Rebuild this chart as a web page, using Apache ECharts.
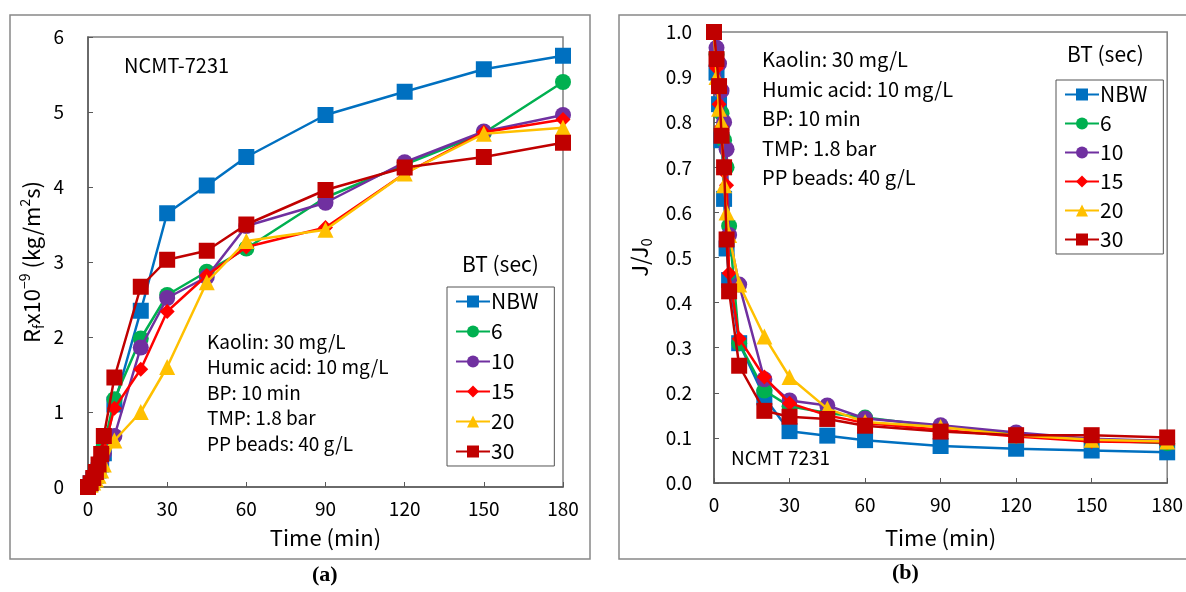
<!DOCTYPE html>
<html><head><meta charset="utf-8">
<script src="https://cdn.jsdelivr.net/npm/echarts@6/dist/echarts.min.js"></script>
<style>html,body{margin:0;padding:0;background:#fff}#c{width:1186px;height:592px}</style>
</head><body><div id="c"></div>
<script>
var seriesNames = ['NBW','6','10','15','20','30'];
var times = [0,1,2,3,4,5,6,10,20,30,45,60,90,120,150,180];
var xTicks = [0,30,60,90,120,150,180];
// Panel (a): Rf x10^-9 (kg/m2s)
var rfNBW = [0,0.05,0.1,0.15,0.22,0.3,0.45,1.1,2.35,3.65,4.02,4.4,4.96,5.27,5.57,5.75];
var rf6   = [0,0.05,0.1,0.18,0.27,0.38,0.55,1.17,1.98,2.56,2.87,3.18,3.86,4.3,4.72,5.4];
var rf10  = [0,0.04,0.08,0.15,0.25,0.35,0.45,0.68,1.86,2.52,2.8,3.48,3.79,4.33,4.74,4.96];
var rf15  = [0,0.05,0.1,0.15,0.25,0.35,0.5,1.05,1.57,2.34,2.82,3.2,3.46,4.18,4.73,4.9];
var rf20  = [0,0.03,0.06,0.1,0.15,0.22,0.3,0.62,1.0,1.6,2.73,3.28,3.43,4.18,4.71,4.79];
var rf30  = [0,0.05,0.12,0.2,0.3,0.44,0.68,1.46,2.67,3.03,3.15,3.5,3.96,4.26,4.4,4.59];
// Panel (b): J/J0
var jNBW = [1.0,0.91,0.84,0.76,0.63,0.52,0.45,0.31,0.19,0.115,0.105,0.095,0.082,0.076,0.072,0.068];
var j6   = [1.0,0.95,0.88,0.82,0.76,0.70,0.57,0.31,0.205,0.17,0.155,0.145,0.125,0.11,0.095,0.088];
var j10  = [1.0,0.965,0.93,0.87,0.80,0.74,0.55,0.44,0.23,0.183,0.172,0.143,0.128,0.112,0.098,0.093];
var j15  = [1.0,0.92,0.84,0.79,0.69,0.66,0.465,0.32,0.235,0.177,0.15,0.133,0.118,0.103,0.092,0.09];
var j20  = [1.0,0.90,0.83,0.80,0.66,0.60,0.55,0.44,0.325,0.235,0.165,0.135,0.124,0.106,0.096,0.092];
var j30  = [1.0,0.94,0.88,0.77,0.70,0.54,0.425,0.26,0.16,0.147,0.142,0.127,0.114,0.106,0.106,0.101];

var rfData = [rfNBW, rf6, rf10, rf15, rf20, rf30];
var jData = [jNBW, j6, j10, j15, j20, j30];
var colors = ['#0070C0','#00B050','#7030A0','#FF0000','#FFC000','#C00000'];
var symbols = ['rect','circle','circle','diamond','triangle','rect'];
var symSizes = [16,16,16,15,16,16];
var FONT = 'Noto Sans CJK KR';

function pairs(xs, ys){ return xs.map(function(x,i){return [x, ys[i]];}); }

var series = [];
[rfData, jData].forEach(function(set, p){
  set.forEach(function(ys, i){
    series.push({
      name: seriesNames[i], type: 'line', xAxisIndex: p, yAxisIndex: p,
      data: pairs(times, ys), symbol: symbols[i], symbolSize: symSizes[i],
      lineStyle: {color: colors[i], width: 2.5}, itemStyle: {color: colors[i]},
      z: 10 + i, animation: false
    });
  });
});

function xAx(idx){
  return {gridIndex: idx, type: 'value', min: 0, max: 180, interval: 30,
    name: 'Time (min)', nameLocation: 'middle', nameGap: idx===0?40:44,
    nameTextStyle: {fontFamily: FONT, fontSize: 22, color: '#000'},
    axisLine: {lineStyle: {color: '#595959', width: 1.5}},
    axisTick: {inside: true, length: 5, lineStyle: {color: '#595959'}},
    axisLabel: {fontFamily: FONT, fontSize: 19, color: '#000', margin: 12},
    splitLine: {show: false}};
}

var option = {
  animation: false,
  grid: [
    {left: 88, right: 623, top: 37, bottom: 105, show: true, borderColor: '#808080', borderWidth: 1.5, backgroundColor: 'transparent'},
    {left: 714, right: 13, top: 32, bottom: 109, show: true, borderColor: '#808080', borderWidth: 1.5, backgroundColor: 'transparent'}
  ],
  xAxis: [xAx(0), xAx(1)],
  yAxis: [
    {gridIndex: 0, type: 'value', min: 0, max: 6, interval: 1,
     name: 'R{sub|f}x10{sup|−9} (kg/m{sup|2}s)', nameLocation: 'middle', nameGap: 42, nameRotate: 90,
     nameTextStyle: {fontFamily: FONT, fontSize: 22, color: '#000', lineHeight: 28,
       rich: {sub: {fontFamily: FONT, fontSize: 14, color: '#000', lineHeight: 12, verticalAlign: 'bottom'},
              sup: {fontFamily: FONT, fontSize: 14, color: '#000', lineHeight: 12, verticalAlign: 'top'}}},
     axisLine: {show: true, lineStyle: {color: '#595959', width: 1.5}},
     axisTick: {show: true, inside: true, length: 5, lineStyle: {color: '#595959'}},
     axisLabel: {fontFamily: FONT, fontSize: 19, color: '#000', margin: 24},
     splitLine: {show: false}},
    {gridIndex: 1, type: 'value', min: 0, max: 1, interval: 0.1,
     name: 'J/J{sub|0}', nameLocation: 'middle', nameGap: 60, nameRotate: 90,
     nameTextStyle: {fontFamily: FONT, fontSize: 22, color: '#000', lineHeight: 28,
       rich: {sub: {fontFamily: FONT, fontSize: 15, color: '#000', lineHeight: 12, verticalAlign: 'bottom'}}},
     axisLine: {show: true, lineStyle: {color: '#595959', width: 1.5}},
     axisTick: {show: true, inside: true, length: 5, lineStyle: {color: '#595959'}},
     axisLabel: {fontFamily: FONT, fontSize: 19, color: '#000', margin: 22,
       formatter: function(v){ return v.toFixed(1); }},
     splitLine: {show: false}}
  ],
  legend: [
    {data: seriesNames, orient: 'vertical', left: 447, top: 287, width: 104,
     itemWidth: 34, itemHeight: 15, itemGap: 9, padding: [4, 16, 4, 8],
     borderColor: '#555', borderWidth: 1, backgroundColor: '#fff',
     textStyle: {fontFamily: FONT, fontSize: 21, color: '#000', padding: [0,0,0,-4]}},
    {data: seriesNames, orient: 'vertical', left: 1056, top: 80,
     itemWidth: 34, itemHeight: 15, itemGap: 8, padding: [4, 16, 4, 8],
     borderColor: '#555', borderWidth: 1, backgroundColor: '#fff',
     textStyle: {fontFamily: FONT, fontSize: 21, color: '#000', padding: [0,0,0,-4]}}
  ],
  graphic: [
    {type: 'rect', shape: {x: 10, y: 15, width: 580, height: 544}, style: {fill: 'none', stroke: '#888', lineWidth: 1.5}, z: -10},
    {type: 'rect', shape: {x: 619, y: 15, width: 580, height: 544}, style: {fill: 'none', stroke: '#888', lineWidth: 1.5}, z: -10},
    {type: 'text', left: 124, top: 55, style: {text: 'NCMT-7231', font: '20px "' + FONT + '"', fill: '#000'}},
    {type: 'text', left: 207, top: 329, style: {text: 'Kaolin: 30 mg/L\nHumic acid: 10 mg/L\nBP: 10 min\nTMP: 1.8 bar\nPP beads: 40 g/L', font: '19px "' + FONT + '"', fill: '#000', lineHeight: 25.5}},
    {type: 'text', left: 462, top: 254, style: {text: 'BT (sec)', font: '21px "' + FONT + '"', fill: '#000'}},
    {type: 'text', left: 762, top: 45, style: {text: 'Kaolin: 30 mg/L\nHumic acid: 10 mg/L\nBP: 10 min\nTMP: 1.8 bar\nPP beads: 40 g/L', font: '20px "' + FONT + '"', fill: '#000', lineHeight: 29.5}},
    {type: 'text', left: 731, top: 448, style: {text: 'NCMT 7231', font: '19px "' + FONT + '"', fill: '#000'}},
    {type: 'text', left: 1067, top: 44, style: {text: 'BT (sec)', font: '21px "' + FONT + '"', fill: '#000'}},
    {type: 'text', left: 312, top: 564, style: {text: '(a)', font: 'bold 22px "Liberation Serif"', fill: '#000'}},
    {type: 'text', left: 892, top: 562, style: {text: '(b)', font: 'bold 22px "Liberation Serif"', fill: '#000'}}
  ],
  series: series
};
var chart = echarts.init(document.getElementById('c'), null, {renderer: 'canvas'});
chart.setOption(option);
</script></body></html>
